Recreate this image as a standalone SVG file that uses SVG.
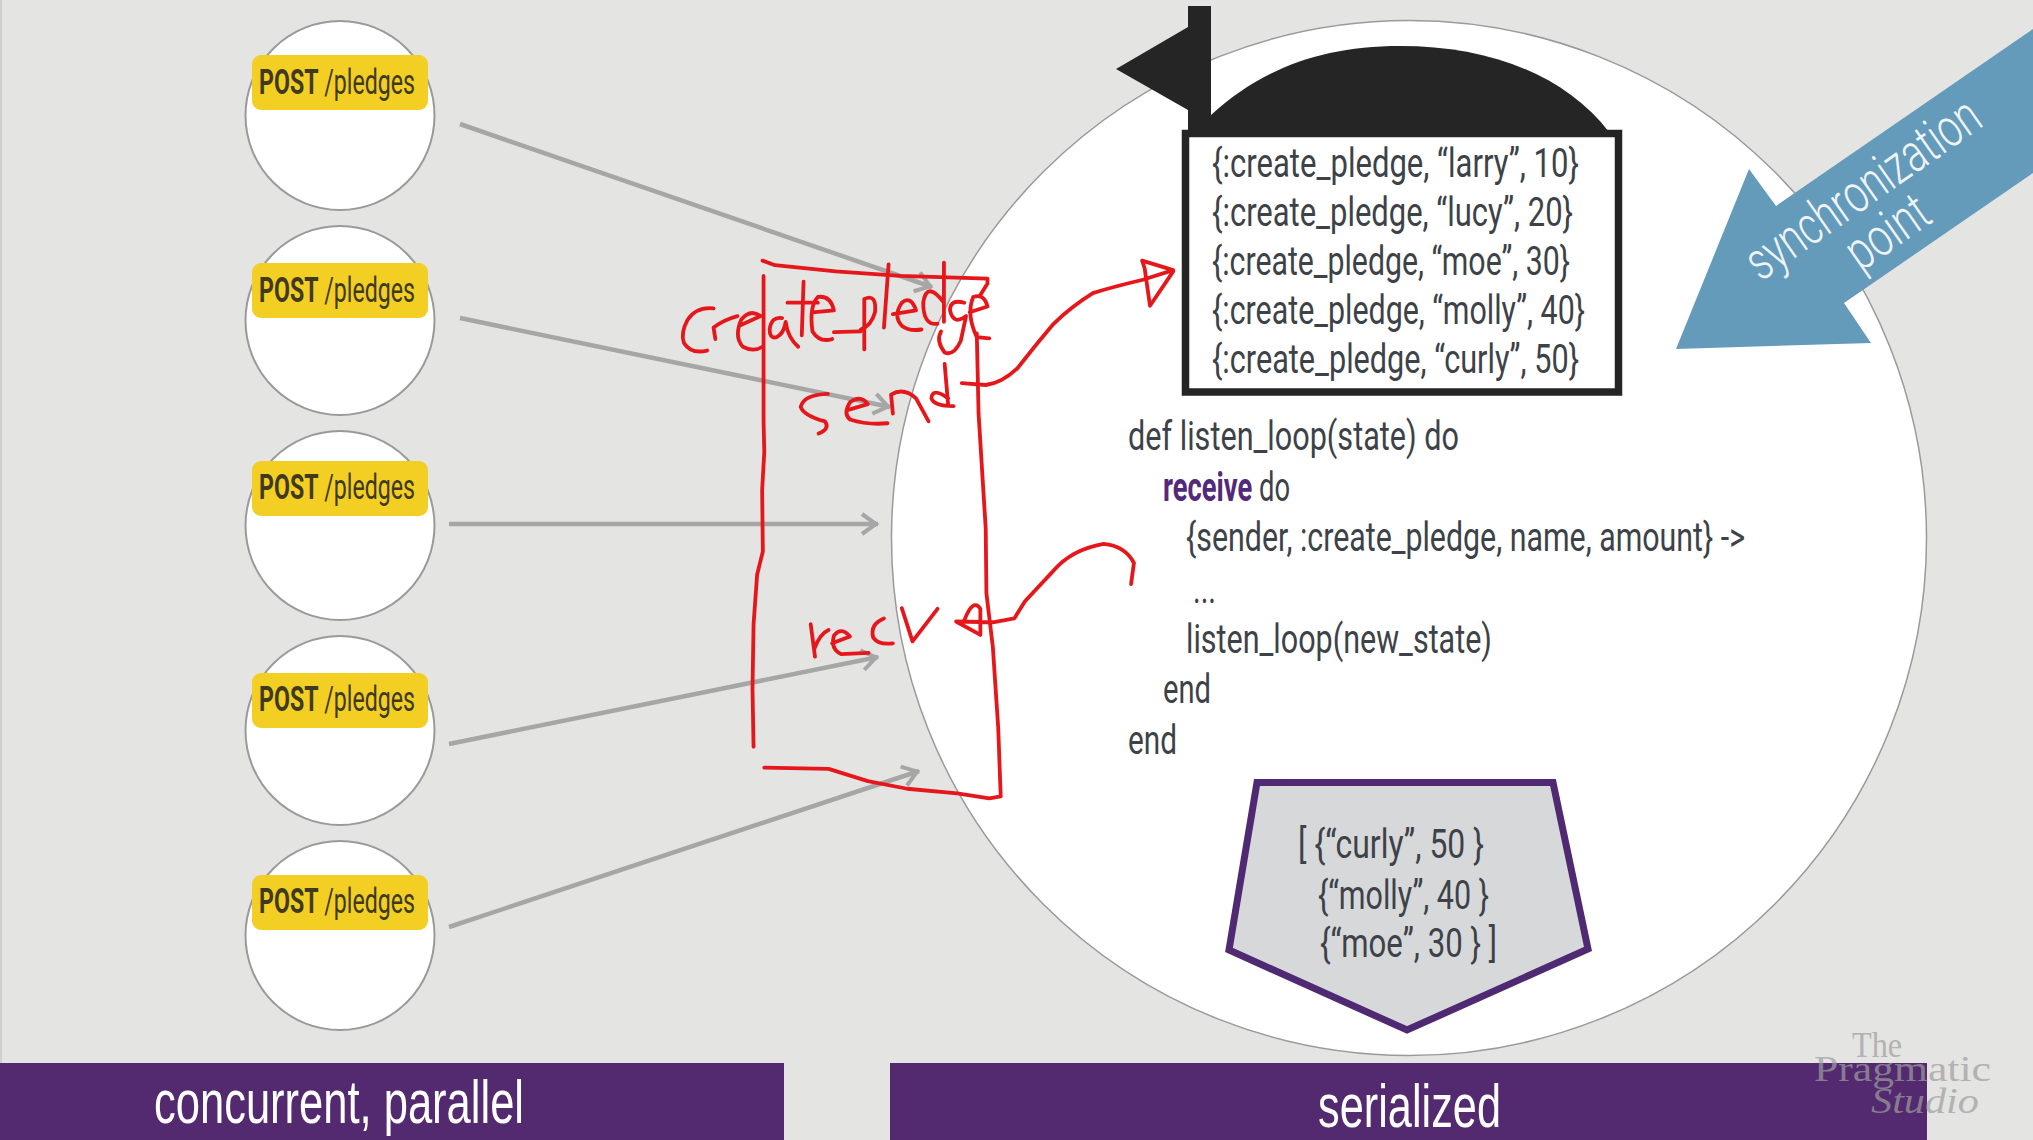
<svg xmlns="http://www.w3.org/2000/svg" width="2033" height="1140" viewBox="0 0 2033 1140">
<style>
.t{font-family:Roboto,"Liberation Sans",sans-serif;fill:#3d4248;font-size:41px}
.c{fill:#fff;stroke:#9a9a9a;stroke-width:2}
.b{fill:#F3CE23}
.bt{font-family:Roboto,"Liberation Sans",sans-serif;font-size:35px;fill:#3f3a1e}
.w{font-family:"Liberation Sans",Roboto,sans-serif;fill:#fff;font-size:62px}
.m{font-family:"Liberation Serif",serif;fill:#9e9e9e;opacity:.7;font-size:36px}
.s{font-family:Roboto,"Liberation Sans",sans-serif;fill:#eef4f8;font-size:54px;font-weight:300}
.a{fill:none;stroke:#a5a6a5;stroke-width:4.500;marker-end:url(#h)}
.r{fill:none;stroke:#E6171B;stroke-width:3.8;stroke-linecap:round;stroke-linejoin:round;vector-effect:non-scaling-stroke}
</style>
<defs>
<marker id="h" markerUnits="userSpaceOnUse" markerWidth="28" markerHeight="28" refX="22" refY="14" orient="auto">
<path d="M6,4 L20,14 L6,24" fill="none" stroke="#a5a6a5" stroke-width="4"/>
</marker>
</defs>
<rect width="2033" height="1140" fill="#E4E4E3"/>
<rect width="2" height="1140" fill="#cfcfcf"/>

<g id="server">
<circle cx="1409" cy="538" r="517.500" fill="#fff" stroke="#9a9a9a" stroke-width="1.500"/>
</g>

<g id="client-1">
<circle class="c" cx="340" cy="115.500" r="94.500"/>
<rect class="b" x="252" y="55" width="176" height="55" rx="9"/>
<text class="bt" x="259" y="94" textLength="156" lengthAdjust="spacingAndGlyphs"><tspan font-weight="700">POST</tspan> /pledges</text>
</g>
<g id="client-2">
<circle class="c" cx="340" cy="320.500" r="94.500"/>
<rect class="b" x="252" y="263" width="176" height="55" rx="9"/>
<text class="bt" x="259" y="302" textLength="156" lengthAdjust="spacingAndGlyphs"><tspan font-weight="700">POST</tspan> /pledges</text>
</g>
<g id="client-3">
<circle class="c" cx="340" cy="525.500" r="94.500"/>
<rect class="b" x="252" y="461" width="176" height="55" rx="9"/>
<text class="bt" x="259" y="499" textLength="156" lengthAdjust="spacingAndGlyphs"><tspan font-weight="700">POST</tspan> /pledges</text>
</g>
<g id="client-4">
<circle class="c" cx="340" cy="730.500" r="94.500"/>
<rect class="b" x="252" y="673" width="176" height="55" rx="9"/>
<text class="bt" x="259" y="711" textLength="156" lengthAdjust="spacingAndGlyphs"><tspan font-weight="700">POST</tspan> /pledges</text>
</g>
<g id="client-5">
<circle class="c" cx="340" cy="935.500" r="94.500"/>
<rect class="b" x="252" y="875" width="176" height="55" rx="9"/>
<text class="bt" x="259" y="913" textLength="156" lengthAdjust="spacingAndGlyphs"><tspan font-weight="700">POST</tspan> /pledges</text>
</g>

<g id="connectors">
<line class="a" x1="460" y1="124" x2="932" y2="287"/>
<line class="a" x1="460" y1="318" x2="890" y2="407"/>
<line class="a" x1="449" y1="524" x2="878" y2="524"/>
<line class="a" x1="449" y1="744" x2="878" y2="657"/>
<line class="a" x1="449" y1="927" x2="919" y2="771"/>
</g>

<g id="mailbox">
<path d="M1211,115 C1260,70 1320,46 1400,46 C1490,46 1565,75 1609,132 L1609,140 L1211,140 Z" fill="#252525"/>
<path d="M1188,6 H1211 V140 H1188 V110 L1116,69 L1188,27 Z" fill="#252525"/>
<rect x="1185.500" y="133.500" width="433" height="258.500" fill="#fff" stroke="#252525" stroke-width="7.500"/>
<text class="t" x="1212" y="177" textLength="367" lengthAdjust="spacingAndGlyphs">{:create_pledge, “larry”, 10}</text>
<text class="t" x="1212" y="226" textLength="361" lengthAdjust="spacingAndGlyphs">{:create_pledge, “lucy”, 20}</text>
<text class="t" x="1212" y="275" textLength="358" lengthAdjust="spacingAndGlyphs">{:create_pledge, “moe”, 30}</text>
<text class="t" x="1212" y="324" textLength="373" lengthAdjust="spacingAndGlyphs">{:create_pledge, “molly”, 40}</text>
<text class="t" x="1212" y="373" textLength="367" lengthAdjust="spacingAndGlyphs">{:create_pledge, “curly”, 50}</text>
</g>

<g id="sync-point">
<path d="M1676,349 L1749,169 L1776,206 L2033,29 V173 L1844,303 L1871,343 Z" fill="#649BBB"/>
<text class="s" transform="translate(1865,192) rotate(-35)" x="0" y="14" text-anchor="middle" textLength="274" lengthAdjust="spacingAndGlyphs">synchronization</text>
<text class="s" transform="translate(1893,240) rotate(-35)" x="0" y="8" text-anchor="middle" textLength="90" lengthAdjust="spacingAndGlyphs">point</text>
</g>

<g id="code">
<text class="t" x="1128" y="450" textLength="331" lengthAdjust="spacingAndGlyphs">def listen_loop(state) do</text>
<text class="t" x="1163" y="501" textLength="127" lengthAdjust="spacingAndGlyphs"><tspan font-weight="700" style="fill:#532A7A">receive</tspan> do</text>
<text class="t" x="1186" y="551" textLength="559" lengthAdjust="spacingAndGlyphs">{sender, :create_pledge, name, amount} -&gt;</text>
<text class="t" x="1193" y="603" textLength="23" lengthAdjust="spacingAndGlyphs">...</text>
<text class="t" x="1186" y="653" textLength="306" lengthAdjust="spacingAndGlyphs">listen_loop(new_state)</text>
<text class="t" x="1163" y="703" textLength="48" lengthAdjust="spacingAndGlyphs">end</text>
<text class="t" x="1128" y="754" textLength="49" lengthAdjust="spacingAndGlyphs">end</text>
</g>

<g id="result">
<path d="M1257,782.500 H1553 L1588,949 L1407,1030 L1229,950 Z" fill="#D7D8DA" stroke="#4F2A72" stroke-width="7"/>
<text class="t" x="1298" y="858" textLength="186" lengthAdjust="spacingAndGlyphs">[ {“curly”, 50 }</text>
<text class="t" x="1318" y="909" textLength="171" lengthAdjust="spacingAndGlyphs">{“molly”, 40 }</text>
<text class="t" x="1320" y="957" textLength="177" lengthAdjust="spacingAndGlyphs">{“moe”, 30 } ]</text>
</g>

<g id="bar-left">
<rect x="0" y="1063" width="784" height="77" fill="#532A6F"/>
<text class="w" x="154" y="1123" textLength="370" lengthAdjust="spacingAndGlyphs">concurrent, parallel</text>
</g>
<g id="bar-right">
<rect x="890" y="1063" width="1037" height="77" fill="#532A6F"/>
<text class="w" x="1318" y="1127" textLength="183" lengthAdjust="spacingAndGlyphs">serialized</text>
</g>

<g id="watermark">
<text class="m" x="1852" y="1057" textLength="50" lengthAdjust="spacingAndGlyphs">The</text>
<text class="m" x="1814" y="1081" textLength="177" lengthAdjust="spacingAndGlyphs">Pragmatic</text>
<text class="m" x="1871" y="1113" textLength="108" lengthAdjust="spacingAndGlyphs" font-style="italic">Studio</text>
</g>

<g id="annotations" transform="translate(650 230) scale(0.35714 0.38270)">
<path class="r" d="M315,80 L350,92 L520,108 L700,120 L945,127 L945,140 L925,170"/>
<path class="r" d="M318,120 L318,500 L320,580 L314,680 L316,840 L300,900 L290,1030 L287,1200 L290,1350"/>
<path class="r" d="M915,270 L920,480 L932,660 L940,780 L942,950 L960,1090 L975,1300 L982,1480 L950,1485 L860,1472 L720,1460 L610,1440 L500,1408 L320,1405"/>
<path class="r" d="M178,205 Q130,200 105,235 Q85,270 95,295 Q115,325 160,315"/>
<path class="r" d="M183,285 L178,255 Q205,235 245,225"/>
<path class="r" d="M250,250 L310,225 Q280,205 255,235 Q235,280 260,305 Q290,320 315,305"/>
<path class="r" d="M370,230 Q340,225 335,260 Q335,285 355,280 Q375,270 380,240 Q385,280 415,305"/>
<path class="r" d="M430,135 L425,275 M385,190 L470,190"/>
<path class="r" d="M455,215 L515,210 Q505,170 470,175 Q445,200 455,265 Q475,295 510,285"/>
<path class="r" d="M515,267 L590,265"/>
<path class="r" d="M600,180 L600,312 M600,180 Q635,165 630,215 Q620,250 590,260"/>
<path class="r" d="M668,90 L655,255"/>
<path class="r" d="M680,220 L745,210 Q730,170 705,190 Q680,225 705,250 Q725,265 760,260"/>
<path class="r" d="M823,85 L823,240 M823,190 Q775,130 765,190 Q765,250 805,245"/>
<path class="r" d="M880,190 Q840,180 840,210 Q850,250 885,225 L870,290 Q850,330 825,320 Q800,290 815,265"/>
<path class="r" d="M895,215 L945,200 Q935,165 905,175 Q885,220 915,280 L950,283"/>
<path class="r" d="M498,428 Q430,430 422,462 Q430,485 490,500 Q505,520 472,532"/>
<path class="r" d="M555,470 L610,455 Q590,430 560,450 Q540,480 560,495 Q610,510 665,505"/>
<path class="r" d="M680,480 L675,430 Q710,410 745,440 L780,500"/>
<path class="r" d="M825,350 L835,458 M835,440 Q790,410 788,440 Q795,460 850,460"/>
<path class="r" d="M873,400 L940,405 Q985,400 1030,360 Q1080,300 1130,245 Q1180,200 1240,165 Q1290,150 1380,130 L1465,105 L1378,80 L1385,100 L1400,198 L1465,108"/>
<path class="r" d="M450,1030 L462,1115 M460,1095 Q475,1055 500,1045"/>
<path class="r" d="M510,1080 L560,1062 Q535,1035 515,1060 Q505,1095 535,1108 L612,1105"/>
<path class="r" d="M655,1015 Q615,1030 625,1065 Q640,1085 680,1080"/>
<path class="r" d="M705,988 L735,1075 L805,990"/>
<path class="r" d="M1347,925 L1355,870 Q1330,825 1270,820 Q1180,835 1130,890 L1050,970 L1020,1015 L960,1025 L857,1023 L925,1058 L925,990 Q905,960 880,1020"/>
</g>
</svg>
